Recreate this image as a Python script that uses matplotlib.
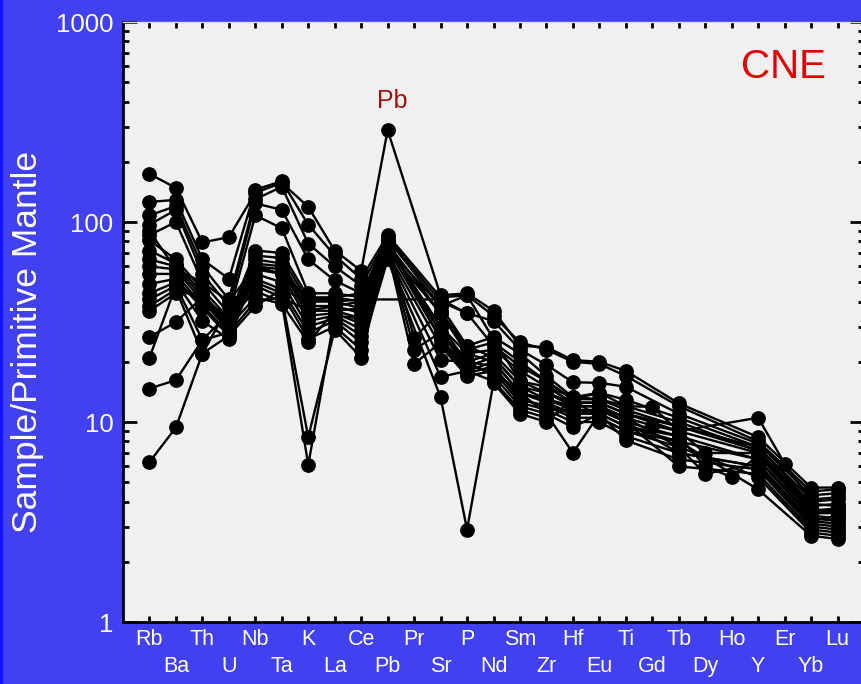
import numpy as np
import matplotlib
matplotlib.use("Agg")
from matplotlib import pyplot as plt
from matplotlib import ticker
from matplotlib.patches import Rectangle

# spider diagram, normalised to primitive mantle
elements = ["Rb", "Ba", "Th", "U", "Nb", "Ta", "K", "La", "Ce", "Pb", "Pr", "Sr", "P", "Nd",
            "Sm", "Zr", "Hf", "Eu", "Ti", "Gd", "Tb", "Dy", "Ho", "Y", "Er", "Yb", "Lu"]

nan = np.nan
#      Rb    Ba    Th    U     Nb    Ta    K     La    Ce    Pb    Pr    Sr    P     Nd    Sm    Zr    Hf    Eu    Ti    Gd    Tb    Dy   Ho   Y     Er   Yb   Lu
s01 = [174,  148,  79,   84,   140,  157,  119,  72,   57,   288,  nan,  43,   44,   36,   24,   23.7, 20.4, 20,   18,   nan,  12.4, nan, nan, 8.4,  nan, 4.7, 4.7]
s02 = [126,  129,  65,   52,   145,  160,  97,   68,   52,   86,   nan,  42,   43,   34,   25,   23,   20,   19.5, 17,   nan,  12,   nan, nan, 8.0,  nan, 4.5, 4.6]
s03 = [108,  120,  60,   41,   130,  150,  78,   60,   48,   84,   nan,  40,   35,   32,   23,   19.3, 15.8, 15.7, 15,   nan,  11,   nan, nan, 7.8,  nan, 4.3, 4.4]
s04 = [97,   115,  55,   38,   124,  115,  65,   51,   44,   82,   nan,  38,   24,   26.6, 22,   17,   13.3, 14,   12.9, nan,  10.5, nan, nan, 7.5,  nan, 4.1, 4.2]
s05 = [86,   100,  50,   35,   108,  93,   44,   44,   42,   80,   26.3, 36,   23,   25,   20,   16,   13,   13,   12,   11.9, 9.0,  nan, nan, 10.5, 6.2, 4.0, 4.1]
s06 = [81,   65,   46,   33,   72,   70,   42,   42,   40,   78,   nan,  35,   22,   23,   18,   15,   12.5, 12.5, 11,   nan,  9.5,  nan, nan, 7.2,  nan, 3.8, 3.9]
s07 = [72,   62,   44,   31,   68,   66,   40,   40,   37,   76,   nan,  30,   20,   22,   16,   14,   12,   12,   10.5, 9.6,  9.0,  7.0, nan, 7.0,  nan, 3.6, 3.7]
s08 = [65,   60,   42,   30,   65,   62,   38,   38,   35,   75,   23,   28,   19,   21,   15,   13,   11.5, 11.5, 10,   nan,  8.5,  6.0, 5.3, 6.8,  nan, 3.5, 3.5]
s09 = [60,   58,   40,   29,   62,   60,   36,   36,   33,   74,   nan,  26,   18,   20,   14,   12.5, 11,   11,   9.5,  nan,  8.0,  nan, nan, 6.5,  nan, 3.4, 3.3]
s10 = [55,   55,   38,   28,   60,   58,   34,   35,   31,   72,   19.5, 25,   17.5, 19,   13,   12,   10.5, 10.5, 9.0,  nan,  7.5,  5.5, nan, 6.2,  nan, 3.2, 3.1]
s11 = [49,   52,   37,   27,   58,   55,   32,   34,   29,   70,   nan,  24,   17,   18,   12.5, 11.5, 10,   10,   8.5,  nan,  7.0,  nan, nan, 6.0,  nan, 3.1, 3.0]
s12 = [44,   50,   32,   26,   55,   50,   30,   33,   27,   68,   nan,  20.4, 20,   17,   12,   11,   9.4,  11,   8.1,  nan,  6.5,  nan, nan, 5.8,  nan, 3.0, 2.9]
s13 = [41,   48,   25.7, 35,   52,   46,   28,   32,   25,   66,   nan,  16.8, 18,   16,   11.5, 10.5, 12,   12,   10,   nan,  6.0,  nan, nan, 5.5,  nan, 2.9, 2.8]
s14 = [38,   46,   22,   38,   50,   44,   26,   30,   23,   65,   nan,  13.3, 2.9,  15.7, 11,   10,   13,   10.5, 9.0,  nan,  8.0,  nan, nan, 4.6,  nan, 2.7, 2.6]
s15 = [36,   44,   44,   30,   48,   42,   8.4,  29,   21,   76,   nan,  30,   22,   20,   14,   11,   7.0,  11,   9.5,  nan,  8.5,  nan, nan, 6.5,  nan, 3.3, 3.2]
s16 = [26.6, 31.6, 42,   33,   45,   40,   6.1,  34,   33,   78,   nan,  28,   20,   19,   13,   12,   11,   11.5, 10,   nan,  7.0,  nan, nan, 6.0,  nan, 3.2, 3.4]
s17 = [21,   48,   40,   30,   42,   39,   25,   36,   37,   80,   nan,  26,   19,   18,   14,   13,   12,   12,   10.5, nan,  7.5,  nan, nan, 5.3,  nan, 2.8, 2.7]
s18 = [14.7, 16.2, 25.7, 28,   40,   42,   36,   38,   40,   72,   nan,  35,   24,   21,   15,   14,   12.5, 12.5, 11,   nan,  9.0,  nan, nan, 7.0,  nan, 3.7, 3.5]
s19 = [6.3,  9.4,  22,   27,   38,   46,   40,   42,   44,   74,   nan,  38,   43,   26,   16,   15,   13.3, 13,   11.5, nan,  9.5,  nan, nan, 7.5,  nan, 3.9, 3.8]
s20 = [90,   58,   50,   40,   60,   55,   42,   40,   41,   nan,  nan,  41,   35,   24,   19,   16,   13,   14,   12,   nan,  10,   nan, nan, 7.2,  nan, 3.6, 3.6]

samples = [s01, s02, s03, s04, s05, s06, s07, s08, s09, s10,
           s11, s12, s13, s14, s15, s16, s17, s18, s19, s20]

blue = "#4141f0"
plt.rcParams["font.family"] = ["Liberation Sans", "DejaVu Sans"]

fig = plt.figure(figsize=(8.61, 6.84), dpi=100, facecolor=blue)
fig.patches.append(Rectangle((0, 0), 2 / 861, 1, transform=fig.transFigure,
                             color="#1414ff", zorder=0))
ax = fig.add_axes([123 / 861, 62 / 684, 741 / 861, 600 / 684])
ax.set_facecolor("#f0f0f0")

x = np.arange(len(elements))
for s in samples:
    y = np.array(s, dtype=float)
    m = ~np.isnan(y)
    ax.plot(x[m], y[m], "-o", color="black", lw=1.7, ms=9.6, clip_on=False, zorder=3)

ax.set_yscale("log")
ax.set_ylim(1, 1000)
ax.set_xlim(-1, len(elements))

ax.set_yticks([1, 10, 100, 1000], labels=["1", "10", "100", "1000"])
ax.yaxis.set_minor_locator(ticker.LogLocator(base=10, subs=np.arange(2, 10)))
ax.yaxis.set_minor_formatter(ticker.NullFormatter())

# element names on two rows: even ones as major ticks, odd ones as minor ticks
ax.set_xticks(x[::2], labels=elements[::2])
ax.set_xticks(x[1::2], labels=elements[1::2], minor=True)

ax.tick_params(axis="x", which="both", direction="in", top=True, length=4, width=2,
               colors="black", labelcolor="white", labelsize=15.5)
ax.tick_params(axis="x", which="major", pad=5)
ax.tick_params(axis="x", which="minor", pad=24.5)
ax.tick_params(axis="y", which="major", direction="in", right=True, length=10, width=2,
               colors="black", labelcolor="white", labelsize=18.5, pad=7)
ax.tick_params(axis="y", which="minor", direction="in", right=True, length=4, width=2,
               colors="black")

for side in ["left", "bottom"]:
    ax.spines[side].set_linewidth(2)
    ax.spines[side].set_color("black")
ax.spines["top"].set_color("#dcdcdc")
ax.spines["top"].set_linewidth(1)
ax.spines["right"].set_visible(False)

fig.text(28 / 861, 1 - 342 / 684, "Sample/Primitive Mantle", rotation=90,
         color="white", fontsize=25.5, ha="center", va="center")

ax.text(0.891, 0.925, "CNE", transform=ax.transAxes, color="#e00000",
        fontsize=29, ha="center", va="center")
pb = np.nanmax([s[elements.index("Pb")] for s in samples])
ax.annotate("Pb", xy=(elements.index("Pb"), pb), xytext=(3, 21), textcoords="offset points",
            color="#a01010", fontsize=18, ha="center", va="center")

fig.savefig("out.png", dpi=100, facecolor=blue)
